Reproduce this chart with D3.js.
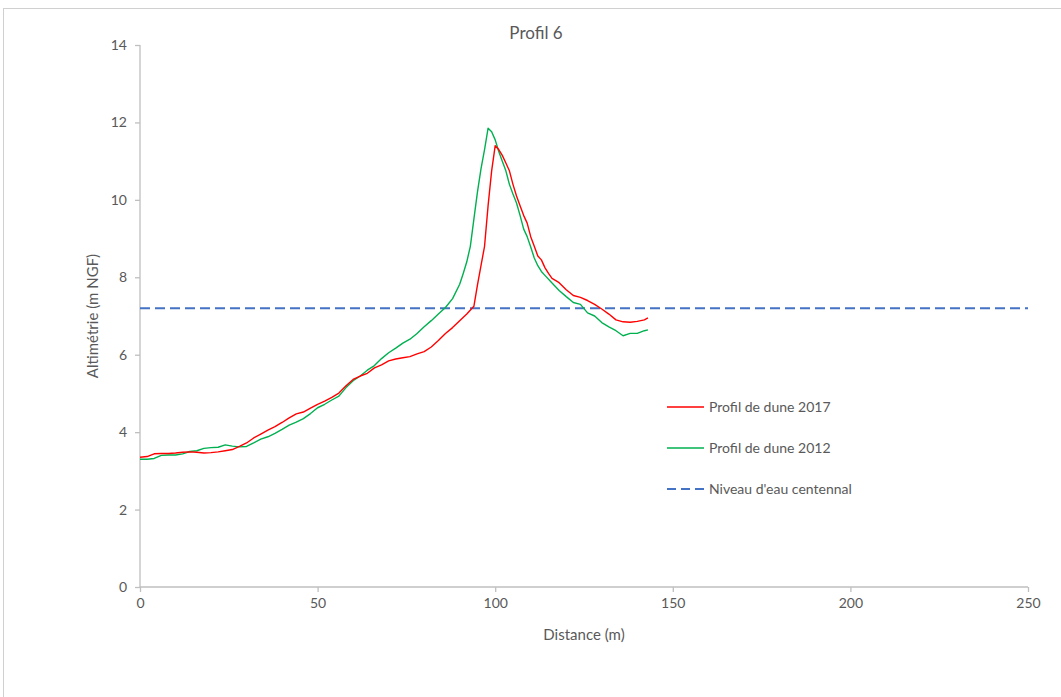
<!DOCTYPE html>
<html>
<head>
<meta charset="utf-8">
<script src="https://cdn.jsdelivr.net/npm/d3@7"></script>
<style>
  html, body { margin: 0; padding: 0; background: #fff; }
  svg { display: block; font-family: Lato, "Open Sans", sans-serif; }
</style>
</head>
<body>
<div id="chart"></div>
<script>
// Profil 6 — dune profiles vs. 100-year water level

var dist2017 = [0, 2, 4, 6, 8, 10, 12, 14, 16, 18, 20, 22, 24, 26, 28, 30, 32, 34, 36, 38,
  40, 42, 44, 46, 48, 50, 52, 54, 56, 58, 60, 62, 64, 66, 68, 70, 72, 74, 76, 78,
  80, 82, 84, 86, 88, 90, 92, 94, 95, 96, 97, 98, 99, 100, 101, 102, 103, 104, 105, 106,
  107, 108, 109, 110, 111, 112, 113, 114, 115, 116, 118, 120, 122, 124, 126, 128, 130, 132, 134, 136,
  138, 140, 142, 143];
var alt2017 = [3.35, 3.37, 3.44, 3.45, 3.45, 3.46, 3.48, 3.49, 3.48, 3.46, 3.47, 3.49, 3.52, 3.55, 3.63, 3.72, 3.85, 3.95, 4.05, 4.14,
  4.25, 4.37, 4.47, 4.52, 4.62, 4.72, 4.80, 4.90, 5.01, 5.20, 5.36, 5.45, 5.52, 5.66, 5.74, 5.84, 5.89, 5.92, 5.95, 6.02,
  6.08, 6.20, 6.37, 6.55, 6.70, 6.88, 7.05, 7.25, 7.80, 8.30, 8.80, 9.85, 10.75, 11.40, 11.30, 11.15, 10.95, 10.75, 10.40, 10.10,
  9.85, 9.60, 9.40, 9.05, 8.80, 8.55, 8.45, 8.25, 8.10, 7.97, 7.86, 7.68, 7.53, 7.48, 7.40, 7.30, 7.18, 7.05, 6.90, 6.85,
  6.84, 6.86, 6.90, 6.95];

var dist2012 = [0, 2, 4, 6, 8, 10, 12, 14, 16, 18, 20, 22, 24, 26, 28, 30, 32, 34, 36, 38,
  40, 42, 44, 46, 48, 50, 52, 54, 56, 58, 60, 62, 64, 66, 68, 70, 72, 74, 76, 78,
  80, 82, 84, 86, 88, 90, 91, 92, 93, 94, 95, 96, 97, 98, 99, 100, 101, 102, 103, 104,
  105, 106, 107, 108, 109, 110, 111, 112, 113, 114, 116, 118, 120, 122, 124, 126, 128, 130, 132, 134,
  136, 138, 140, 142, 143];
var alt2012 = [3.30, 3.30, 3.32, 3.40, 3.41, 3.41, 3.44, 3.50, 3.52, 3.58, 3.60, 3.61, 3.67, 3.64, 3.62, 3.63, 3.72, 3.82, 3.88, 3.97,
  4.07, 4.18, 4.26, 4.35, 4.48, 4.63, 4.72, 4.83, 4.93, 5.15, 5.33, 5.45, 5.60, 5.72, 5.90, 6.05, 6.17, 6.30, 6.40, 6.55,
  6.72, 6.88, 7.05, 7.22, 7.45, 7.82, 8.10, 8.40, 8.80, 9.50, 10.20, 10.80, 11.30, 11.85, 11.76, 11.55, 11.25, 11.00, 10.75, 10.40,
  10.15, 9.92, 9.60, 9.25, 9.05, 8.78, 8.50, 8.30, 8.15, 8.05, 7.85, 7.66, 7.50, 7.35, 7.30, 7.08, 7.00, 6.83, 6.72, 6.62,
  6.49, 6.55, 6.55, 6.62, 6.64];

var waterLevel = 7.2;
var waterRange = [0, 250];

var xTicks = [0, 50, 100, 150, 200, 250];
var yTicks = [0, 2, 4, 6, 8, 10, 12, 14];

var seriesNames = ['Profil de dune 2017', 'Profil de dune 2012', "Niveau d'eau centennal"];

(function () {
  var W = 1061, H = 697;
  var m = { left: 140, right: 33, top: 45, bottom: 110 };

  var svg = d3.select('#chart').append('svg')
    .attr('width', W).attr('height', H);

  // chart frame
  svg.append('rect')
    .attr('x', 3.5).attr('y', 8.5)
    .attr('width', W + 10).attr('height', H + 10)
    .attr('fill', 'none')
    .attr('stroke', '#d0d0d0')
    .attr('stroke-width', 1);

  var x = d3.scaleLinear().domain([0, 250]).range([m.left, W - m.right]);
  var y = d3.scaleLinear().domain([0, 14]).range([H - m.bottom, m.top]);

  // axes
  var xAxis = d3.axisBottom(x).tickValues(xTicks).tickSize(5).tickPadding(6);
  var yAxis = d3.axisLeft(y).tickValues(yTicks).tickSize(5).tickPadding(8);

  var gx = svg.append('g').attr('transform', 'translate(0,' + y(0) + ')').call(xAxis);
  var gy = svg.append('g').attr('transform', 'translate(' + x(0) + ',0)').call(yAxis);

  [gx, gy].forEach(function (g) {
    g.select('.domain').attr('stroke', '#bfbfbf').attr('stroke-width', 1.3);
    g.selectAll('.tick line').attr('stroke', '#bfbfbf').attr('stroke-width', 1.3);
    g.selectAll('.tick text')
      .attr('fill', '#595959')
      .style('font-size', '14px')
      .style('font-family', 'Lato, "Open Sans", sans-serif');
  });
  gx.select('.domain').attr('d', 'M' + x(0) + ',0H' + x(250));
  gy.select('.domain').attr('d', 'M0,' + y(0) + 'V' + y(14));

  // water level
  svg.append('line')
    .attr('x1', x(waterRange[0])).attr('x2', x(waterRange[1]))
    .attr('y1', y(waterLevel)).attr('y2', y(waterLevel))
    .attr('stroke', '#4472c4')
    .attr('stroke-width', 2.2)
    .attr('stroke-dasharray', '10,5');

  var line = d3.line()
    .x(function (d) { return x(d[0]); })
    .y(function (d) { return y(d[1]); });

  var pts2012 = dist2012.map(function (d, i) { return [d, alt2012[i]]; });
  var pts2017 = dist2017.map(function (d, i) { return [d, alt2017[i]]; });

  svg.append('path').datum(pts2012)
    .attr('d', line)
    .attr('fill', 'none')
    .attr('stroke', '#00b050')
    .attr('stroke-width', 1.4)
    .attr('stroke-linejoin', 'round');

  svg.append('path').datum(pts2017)
    .attr('d', line)
    .attr('fill', 'none')
    .attr('stroke', '#ff0000')
    .attr('stroke-width', 1.4)
    .attr('stroke-linejoin', 'round');

  // title and axis labels
  svg.append('text')
    .attr('x', 536).attr('y', 39)
    .attr('text-anchor', 'middle')
    .attr('fill', '#595959')
    .style('font-size', '17px')
    .text('Profil 6');

  svg.append('text')
    .attr('x', (x(0) + x(250)) / 2).attr('y', 640)
    .attr('text-anchor', 'middle')
    .attr('fill', '#595959')
    .style('font-size', '15px')
    .text('Distance (m)');

  svg.append('text')
    .attr('transform', 'translate(98,' + ((y(0) + y(14)) / 2) + ') rotate(-90)')
    .attr('text-anchor', 'middle')
    .attr('fill', '#595959')
    .style('font-size', '15px')
    .text('Altimétrie  (m NGF)');

  // legend
  var legendStyles = [
    { color: '#ff0000', width: 1.5, dash: null },
    { color: '#00b050', width: 1.5, dash: null },
    { color: '#4472c4', width: 2.2, dash: '9,5' }
  ];
  var lg = svg.append('g').attr('transform', 'translate(667,407)');
  seriesNames.forEach(function (name, i) {
    var row = lg.append('g').attr('transform', 'translate(0,' + (i * 41) + ')');
    row.append('line')
      .attr('x1', 0).attr('x2', 37).attr('y1', 0).attr('y2', 0)
      .attr('stroke', legendStyles[i].color)
      .attr('stroke-width', legendStyles[i].width)
      .attr('stroke-dasharray', legendStyles[i].dash);
    row.append('text')
      .attr('x', 42).attr('y', 5)
      .attr('fill', '#595959')
      .style('font-size', '14px')
      .text(name);
  });
})();
</script>
</body>
</html>
